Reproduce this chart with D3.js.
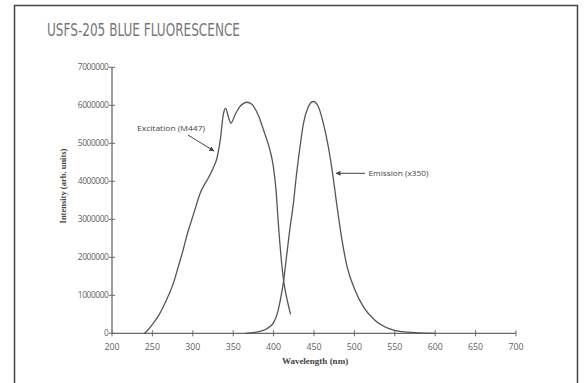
<!DOCTYPE html>
<html><head><meta charset="utf-8">
<script src="https://cdn.jsdelivr.net/npm/d3@7"></script>
<style>body{margin:0;background:#fff}</style>
</head><body>
<svg id="c" width="584" height="383"></svg>
<script>
const titleText = "USFS-205 BLUE FLUORESCENCE";
const xTicks = [200,250,300,350,400,450,500,550,600,650,700];
const yTicks = [0,1000000,2000000,3000000,4000000,5000000,6000000,7000000];
const excitationWl  = [240,245,251,258,263.5,270,276,282,288,293,298.6,304,309,314,319,325,330,334,338,340.7,344,347.3,352,358,363,367,373,381,389,395.5,399.6,403,406,410,413,416,421];
const excitationVal = [0,0.1,0.26,0.48,0.7,1.0,1.32,1.75,2.19,2.6,2.98,3.35,3.68,3.9,4.08,4.34,4.62,5.09,5.79,5.92,5.7,5.53,5.74,5.96,6.05,6.08,6.03,5.74,5.26,4.82,4.4,3.77,2.85,1.84,1.3,0.96,0.5].map(v=>v*1e6);
const emissionWl  = [365,375,383,390,395,400,405,409,412,416,420,424.5,428.5,432.7,437,443,449,455,461.5,467.7,473,478,484,491,500.7,511,525,542,556,575,600];
const emissionVal = [0,0.02,0.05,0.1,0.17,0.28,0.55,0.95,1.32,2.02,2.72,3.42,4.21,4.91,5.53,5.96,6.1,5.98,5.53,4.91,4.21,3.42,2.54,1.75,1.14,0.7,0.35,0.13,0.05,0.02,0].map(v=>v*1e6);
const labels = {x:"Wavelength (nm)", y:"Intensity (arb. units)", exc:"Excitation (M447)", em:"Emission (x350)"};

const svg = d3.select("#c");
svg.append("path").attr("d","M14.5,390 V5.5 H577.5 V390").attr("fill","none").attr("stroke","#444").attr("stroke-width",1.5);
svg.append("text").attr("x",47).attr("y",36).attr("font-family","'Liberation Sans Narrow','DejaVu Sans Condensed',sans-serif")
  .attr("font-size",18).attr("fill","#777").attr("textLength",193).attr("lengthAdjust","spacingAndGlyphs").text(titleText);

const x = d3.scaleLinear().domain([200,700]).range([112,516]);
const y = d3.scaleLinear().domain([0,7000000]).range([333.3,67.3]);
const axisCol = "#6a6a6a";
const g = svg.append("g");
g.append("line").attr("x1",x(200)).attr("x2",x(700)).attr("y1",y(0)).attr("y2",y(0)).attr("stroke",axisCol).attr("stroke-width",1.3);
g.append("line").attr("x1",x(200)).attr("x2",x(200)).attr("y1",y(0)).attr("y2",y(7000000)).attr("stroke",axisCol).attr("stroke-width",1.3);
const tf = "'Open Sans','DejaVu Sans',sans-serif";
xTicks.forEach(t=>{
  g.append("line").attr("x1",x(t)).attr("x2",x(t)).attr("y1",y(0)-3).attr("y2",y(0)+3).attr("stroke",axisCol).attr("stroke-width",1);
  g.append("text").attr("x",x(t)).attr("y",349.5).attr("text-anchor","middle").attr("font-family",tf).attr("font-size",8.8).attr("fill","#606060").text(t);
});
yTicks.forEach(t=>{
  g.append("line").attr("x1",x(200)-3).attr("x2",x(200)+3).attr("y1",y(t)).attr("y2",y(t)).attr("stroke",axisCol).attr("stroke-width",1);
  g.append("text").attr("x",108.5).attr("y",y(t)+3).attr("text-anchor","end").attr("font-family",tf).attr("font-size",8.4).attr("fill","#606060").attr("letter-spacing",-0.4).text(d3.format("d")(t));
});
svg.append("text").attr("x",315).attr("y",363.5).attr("text-anchor","middle").attr("font-family","'Liberation Serif',serif").attr("font-weight","bold").attr("font-size",9).attr("fill","#444").text(labels.x);
svg.append("text").attr("transform","translate(66,186) rotate(-90)").attr("text-anchor","middle").attr("font-family","'Liberation Serif',serif").attr("font-weight","bold").attr("font-size",8.5).attr("fill","#444").text(labels.y);

const line = d3.line().x(d=>x(d[0])).y(d=>y(d[1])).curve(d3.curveMonotoneX);
svg.append("path").attr("d",line(d3.zip(excitationWl,excitationVal))).attr("fill","none").attr("stroke","#555").attr("stroke-width",1.3);
svg.append("path").attr("d",line(d3.zip(emissionWl,emissionVal))).attr("fill","none").attr("stroke","#555").attr("stroke-width",1.3);

const defs = svg.append("defs");
defs.append("marker").attr("id","ah").attr("viewBox","0 0 10 10").attr("refX",9).attr("refY",5).attr("markerWidth",6).attr("markerHeight",5).attr("orient","auto")
  .append("path").attr("d","M0,0 L10,5 L0,10 z").attr("fill","#444");
svg.append("text").attr("x",137).attr("y",131).attr("font-family",tf).attr("font-size",7.8).attr("fill","#444").attr("textLength",68).attr("lengthAdjust","spacingAndGlyphs").text(labels.exc);
svg.append("line").attr("x1",188).attr("y1",135).attr("x2",214).attr("y2",151).attr("stroke","#444").attr("stroke-width",1).attr("marker-end","url(#ah)");
svg.append("text").attr("x",368.5).attr("y",176).attr("font-family",tf).attr("font-size",7.8).attr("fill","#444").attr("textLength",60).attr("lengthAdjust","spacingAndGlyphs").text(labels.em);
svg.append("line").attr("x1",365).attr("y1",173.3).attr("x2",336).attr("y2",173.3).attr("stroke","#444").attr("stroke-width",1).attr("marker-end","url(#ah)");
</script>
</body></html>
